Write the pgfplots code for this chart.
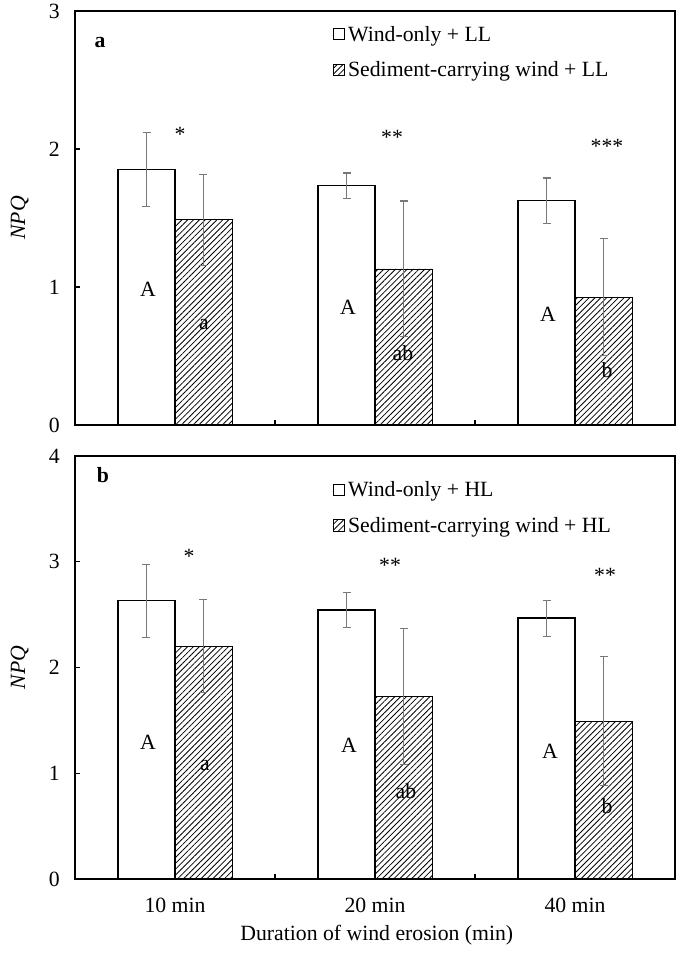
\documentclass[border=0pt]{standalone}
\usepackage{fontspec}
\setmainfont{Liberation Serif}
\usepackage{pgfplots}
\pgfplotsset{compat=1.18}
\usepackage{pgfplotstable}
\usetikzlibrary{patterns.meta}

% Panel a (LL)
\pgfplotstableread{
x y e
0 1.850 0.270
1 1.734 0.092
2 1.625 0.165
}\wA
\pgfplotstableread{
x y e
0 1.488 0.330
1 1.131 0.492
2 0.926 0.425
}\sA
% Panel b (HL)
\pgfplotstableread{
x y e
0 2.633 0.345
1 2.545 0.163
2 2.467 0.170
}\wB
\pgfplotstableread{
x y e
0 2.203 0.438
1 1.725 0.640
2 1.493 0.610
}\sB

\newcommand\fs{\fontsize{16.3}{19}\selectfont}
\definecolor{errgray}{RGB}{120,120,120}

\pgfplotsset{
  panel/.style={
    scale only axis, width=450pt,
    xmin=-0.5, xmax=2.5, ymin=0,
    ybar, bar width=0.285,
    axis line style={line width=1pt},
    tick align=inside, xtick pos=bottom, ytick pos=left,
    xtick={0.5,1.5}, xticklabels={},
    major tick length=4pt,
    tick style={black, line width=0.8pt},
    font=\fs, tick label style={font=\fs},
    /pgf/number format/assume math mode=true,
    yticklabel style={xshift=-8pt},
    ylabel={\textit{NPQ}},
    ylabel style={at={(axis description cs:-0.092,0.5)}, anchor=center},
    legend cell align=left,
    legend style={draw=none, fill=none, font=\fs, row sep=10pt,
      nodes={inner xsep=2pt}},
    legend image code/.code={\draw[#1, line width=0.8pt] (0pt,-4pt) rectangle (8.5pt,4.5pt);},
    clip=false,
  },
  wbar/.style={draw=black, fill=white, line width=1pt, bar shift=-0.1425,
    error bars/.cd, y dir=both, y explicit,
    error bar style={errgray, line width=0.8pt},
    error mark options={errgray, rotate=90, mark size=3pt, line width=0.8pt}},
  sbar/.style={draw=black, line width=0.5pt, bar shift=0.1425,
    pattern={Lines[angle=45, distance=3.1pt, line width=0.6pt]},
    error bars/.cd, y dir=both, y explicit,
    error bar style={errgray, line width=0.8pt},
    error mark options={errgray, rotate=90, mark size=3pt, line width=0.8pt}},
}

\begin{document}
\begin{tikzpicture}
\useasboundingbox (-56.25pt,-58.5pt) rectangle (457.5pt,659.25pt);

% ---------- top panel (a) ----------
\begin{axis}[panel, at={(0pt,340.5pt)}, anchor=south west,
  height=310.5pt, ymax=3, ytick={0,1,2,3},
  legend style={at={(rel axis cs:0.423,0.9)}, anchor=west}]
\addplot[wbar] table[x=x, y=y, y error=e] {\wA};
\addplot[sbar] table[x=x, y=y, y error=e] {\sA};
\legend{Wind-only + LL, Sediment-carrying wind + LL}
\node[font=\bfseries\fs] at (axis cs:-0.375,2.77) {a};
\node at (axis cs:-0.135,0.98) {A};
\node at (axis cs:0.865,0.85) {A};
\node at (axis cs:1.865,0.80) {A};
\node at (axis cs:0.145,0.73) {a};
\node at (axis cs:1.14,0.52) {ab};
\node at (axis cs:2.16,0.40) {b};
\node[yshift=-2.5pt] at (axis cs:0.025,2.13) {*};
\node[yshift=-2.5pt] at (axis cs:1.085,2.11) {**};
\node[yshift=-2.5pt] at (axis cs:2.16,2.04) {***};
\end{axis}

% ---------- bottom panel (b) ----------
\begin{axis}[panel, at={(0pt,0pt)}, anchor=south west,
  height=317.25pt, ymax=4, ytick={0,1,2,3,4},
  extra x ticks={0,1,2}, extra x tick labels={10 min,20 min,40 min},
  extra x tick style={major tick length=0pt, xticklabel style={yshift=-11pt}},
  xlabel={Duration of wind erosion (min)},
  xlabel style={at={(axis description cs:0.503,-0.1324)}, anchor=center},
  legend style={at={(rel axis cs:0.423,0.877)}, anchor=west}]
\addplot[wbar] table[x=x, y=y, y error=e] {\wB};
\addplot[sbar] table[x=x, y=y, y error=e] {\sB};
\legend{Wind-only + HL, Sediment-carrying wind + HL}
\node[font=\bfseries\fs] at (axis cs:-0.36,3.82) {b};
\node at (axis cs:-0.135,1.29) {A};
\node at (axis cs:0.87,1.26) {A};
\node at (axis cs:1.875,1.21) {A};
\node at (axis cs:0.15,1.07) {a};
\node at (axis cs:1.155,0.83) {ab};
\node at (axis cs:2.16,0.69) {b};
\node[yshift=-2.5pt] at (axis cs:0.07,3.08) {*};
\node[yshift=-2.5pt] at (axis cs:1.075,3.00) {**};
\node[yshift=-2.5pt] at (axis cs:2.15,2.90) {**};
\end{axis}
\end{tikzpicture}
\end{document}
